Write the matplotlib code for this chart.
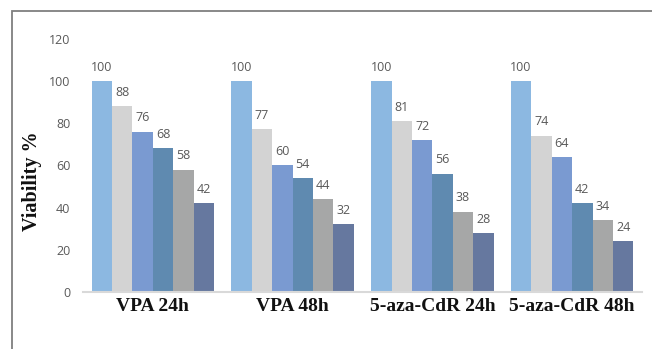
import matplotlib
matplotlib.use("Agg")
import matplotlib.pyplot as plt
import numpy as np
from matplotlib.patches import Rectangle

# Viability (%) per treatment group, six dose levels each
groups = ["VPA 24h", "VPA 48h", "5-aza-CdR 24h", "5-aza-CdR 48h"]
dose1 = [100, 100, 100, 100]
dose2 = [88, 77, 81, 74]
dose3 = [76, 60, 72, 64]
dose4 = [68, 54, 56, 42]
dose5 = [58, 44, 38, 34]
dose6 = [42, 32, 28, 24]
series = [dose1, dose2, dose3, dose4, dose5, dose6]
yticks = [0, 20, 40, 60, 80, 100, 120]

colors = ["#8CB8E1", "#D3D3D3", "#7A9AD1", "#5F8AB0", "#A6A7A7", "#66789F"]

W, H = 652, 349
fig = plt.figure(figsize=(W / 100, H / 100), dpi=100)

# outer frame
fig.patches.append(Rectangle((12 / W, -0.05), 1.2, (H - 11) / H + 0.05,
                             transform=fig.transFigure, fill=False,
                             edgecolor="#7F7F7F", linewidth=1.3))

ax = fig.add_axes([83 / W, (H - 292) / H, 559 / W, (292 - 38.7) / H])

n = len(series)
group_w = 0.877
bw = group_w / n
x = np.arange(len(groups))
for i, (vals, c) in enumerate(zip(series, colors)):
    pos = x - group_w / 2 + bw * (i + 0.5)
    ax.bar(pos, vals, width=bw, color=c, linewidth=0, zorder=2)
    for p, v in zip(pos, vals):
        ax.annotate(f"{v}", (p, v), xytext=(0, 10), textcoords="offset points",
                    ha="center", va="center", fontsize=9, color="#595959",
                    family="Open Sans")

ax.set_xlim(-0.5, len(groups) - 0.5)
ax.set_ylim(0, 120)
ax.set_yticks(yticks)
ax.set_yticklabels([str(t) for t in yticks], fontsize=9, color="#595959",
                   family="Open Sans")
ax.tick_params(axis="y", length=0, pad=9)
ax.set_xticks(x)
ax.set_xticklabels(groups, fontsize=14, fontweight="bold",
                   family="Liberation Serif", color="#111111")
ax.tick_params(axis="x", length=0, pad=4)

for s in ["top", "right", "left"]:
    ax.spines[s].set_visible(False)
ax.spines["bottom"].set_color("#D9D9D9")
ax.spines["bottom"].set_linewidth(1.5)

fig.text(32 / W, 1 - 181 / H, "Viability %", rotation=90, ha="center",
         va="center", fontsize=14.5, fontweight="bold",
         family="Liberation Serif", color="#111111")

fig.savefig("out.png", dpi=100)
